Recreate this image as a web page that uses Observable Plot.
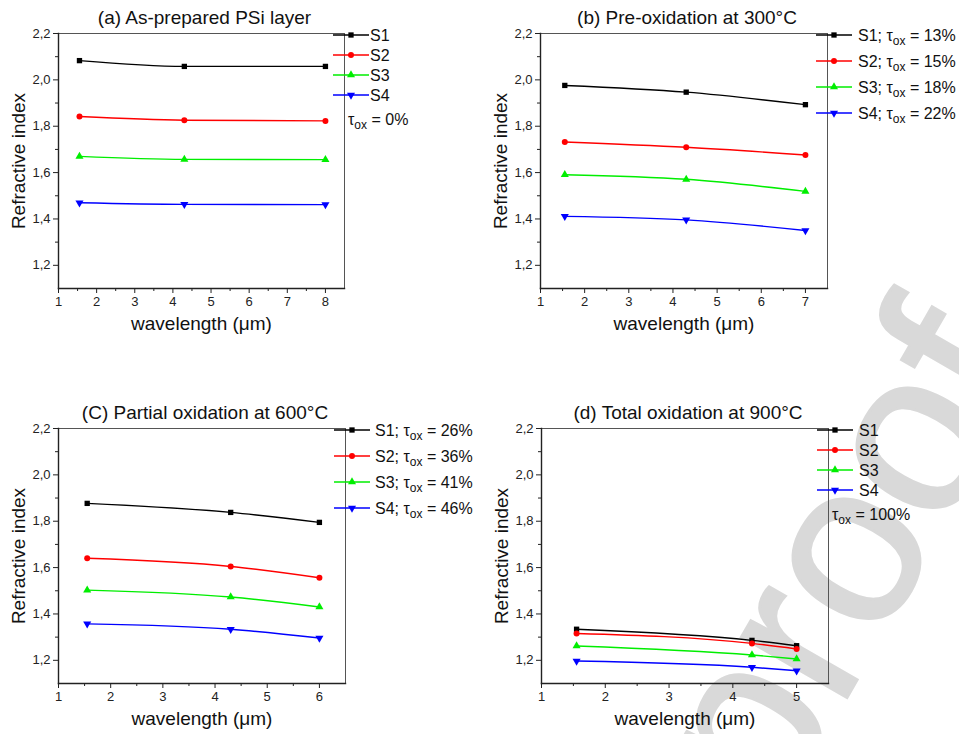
<!DOCTYPE html>
<html><head><meta charset="utf-8">
<script src="https://cdn.jsdelivr.net/npm/d3@7"></script>
<script src="https://cdn.jsdelivr.net/npm/@observablehq/plot@0.6"></script>
<style>
body{margin:0;background:#fff;font-family:"Liberation Sans",Arial,sans-serif;}
#wrap{position:relative;width:959px;height:734px;overflow:hidden;background:#fff;}
.panel{position:absolute;}
#wm{position:absolute;left:0;top:0;}
</style></head><body><div id="wrap"></div>
<script>
// ---- data ----
const seriesNames = ["S1", "S2", "S3", "S4"];
const seriesColors = ["#000000", "#ff0000", "#00ee00", "#0000ff"];

const titleA = "(a) As-prepared PSi layer";
const wavelengthA = [1.55, 4.3, 8];
const nA_S1 = [2.083, 2.058, 2.058];
const nA_S2 = [1.842, 1.826, 1.823];
const nA_S3 = [1.670, 1.657, 1.656];
const nA_S4 = [1.470, 1.463, 1.462];
const tauA = null;
const noteA = "0%";

const titleB = "(b) Pre-oxidation at 300°C";
const wavelengthB = [1.55, 4.3, 7];
const nB_S1 = [1.976, 1.947, 1.893];
const nB_S2 = [1.732, 1.709, 1.676];
const nB_S3 = [1.591, 1.571, 1.519];
const nB_S4 = [1.411, 1.396, 1.350];
const tauB = ["13%", "15%", "18%", "22%"];

const titleC = "(C) Partial oxidation at 600°C";
const wavelengthC = [1.55, 4.3, 6];
const nC_S1 = [1.877, 1.838, 1.795];
const nC_S2 = [1.640, 1.605, 1.556];
const nC_S3 = [1.503, 1.473, 1.430];
const nC_S4 = [1.357, 1.334, 1.296];
const tauC = ["26%", "36%", "41%", "46%"];

const titleD = "(d) Total oxidation at 900°C";
const wavelengthD = [1.55, 4.3, 5];
const nD_S1 = [1.334, 1.286, 1.263];
const nD_S2 = [1.316, 1.273, 1.249];
const nD_S3 = [1.262, 1.223, 1.206];
const nD_S4 = [1.197, 1.170, 1.155];
const tauD = null;
const noteD = "100%";

const yMajorTicks = [1.2, 1.4, 1.6, 1.8, 2.0, 2.2];
const yMinorTicks = [1.3, 1.5, 1.7, 1.9, 2.1];
const xLabel = "wavelength (\u03bcm)";
const yLabel = "Refractive index";
const watermarkText = "proof";

// ---- drawing ----
const FONT = "'Liberation Sans', Arial, sans-serif";
const fmt = d => d3.format(".1f")(d).replace(".", ",");
const symbolOf = ["square", "circle", "triangle", "triangle"];
const rotateOf = [0, 0, 0, 180];

function panel(cfg) {
  const rows = [];
  cfg.values.forEach((vals, i) => vals.forEach((v, j) => rows.push({s: i, x: cfg.wl[j], y: v})));
  const xMajor = d3.range(1, cfg.xmax + 0.001, 1);
  const xMinor = d3.range(1.5, cfg.xmax + 0.001, 1);
  const marks = [
    Plot.frame({stroke: "#555", strokeWidth: 1}),
    Plot.frame({anchor: "left", stroke: "#222", strokeWidth: 1.4}),
    Plot.frame({anchor: "bottom", stroke: "#222", strokeWidth: 1.4}),
    Plot.axisY(yMajorTicks, {tickSize: 5, tickPadding: 3, tickFormat: fmt, fontSize: 13, label: null, stroke: "#222", fill: "#222"}),
    Plot.axisY(yMinorTicks, {tickSize: 3, tickFormat: () => "", label: null, stroke: "#222"}),
    Plot.axisX(xMajor, {tickSize: 5, tickPadding: 3, tickFormat: d3.format("d"), fontSize: 13, label: null, stroke: "#222", fill: "#222"}),
    Plot.axisX(xMinor, {tickSize: 3, tickFormat: () => "", label: null, stroke: "#222"}),
    Plot.text([cfg.title], {text: d => d, frameAnchor: "top", dy: -16, dx: 3, fontSize: 19, fill: "#111", lineAnchor: "middle", textAnchor: "middle"}),
    Plot.text([xLabel], {text: d => d, frameAnchor: "bottom", dy: 35, fontSize: 19, fill: "#111", lineAnchor: "middle", textAnchor: "middle"}),
    Plot.text([yLabel], {text: d => d, frameAnchor: "left", dx: -40, rotate: -90, fontSize: 19, fill: "#111", lineAnchor: "middle", textAnchor: "middle"})
  ];
  for (let i = 0; i < 4; i++) {
    const d = rows.filter(r => r.s === i);
    marks.push(Plot.line(d, {x: "x", y: "y", stroke: seriesColors[i], strokeWidth: 1.4, curve: "monotone-x"}));
    marks.push(Plot.dot(d, {x: "x", y: "y", symbol: symbolOf[i], fill: seriesColors[i], r: 3, rotate: rotateOf[i]}));
  }
  const plot = Plot.plot({
    width: cfg.width, height: cfg.height,
    marginLeft: cfg.ml, marginRight: cfg.mr, marginTop: cfg.mt, marginBottom: cfg.mb,
    style: {fontFamily: FONT, background: "transparent", overflow: "visible"},
    x: {domain: [1, cfg.xmax + 0.5], axis: null},
    y: {domain: [1.1, 2.2], axis: null},
    marks
  });
  // legend
  const svg = d3.select(plot);
  const fr = cfg.width - cfg.mr;
  const g = svg.append("g").attr("font-family", FONT).attr("font-size", 16).attr("fill", "#111").attr("text-anchor", "start");
  let lastY = 0;
  for (let i = 0; i < 4; i++) {
    const y = cfg.mt + 2 + i * cfg.gap;
    lastY = y;
    g.append("line").attr("x1", fr - 11).attr("x2", fr + 25).attr("y1", y).attr("y2", y)
      .attr("stroke", seriesColors[i]).attr("stroke-width", 1.5);
    const type = [d3.symbolSquare, d3.symbolCircle, d3.symbolTriangle, d3.symbolTriangle][i];
    g.append("path").attr("d", d3.symbol(type, 28)())
      .attr("transform", `translate(${fr + 7},${y}) rotate(${rotateOf[i]})`).attr("fill", seriesColors[i]);
    const t = g.append("text").attr("x", fr + cfg.tx).attr("y", y).attr("dy", "0.36em");
    if (cfg.tau) {
      t.append("tspan").text(seriesNames[i] + "; \u03c4");
      t.append("tspan").attr("font-size", 12).attr("dy", 4).text("ox");
      t.append("tspan").attr("dy", -4).text(" = " + cfg.tau[i]);
    } else {
      t.text(seriesNames[i]);
    }
  }
  if (cfg.note) {
    const t = g.append("text").attr("x", fr + 4).attr("y", lastY + 24).attr("dy", "0.36em");
    t.append("tspan").text("\u03c4");
    t.append("tspan").attr("font-size", 12).attr("dy", 4).text("ox");
    t.append("tspan").attr("dy", -4).text(" = " + cfg.note);
  }
  const div = document.createElement("div");
  div.className = "panel";
  div.style.left = cfg.left + "px";
  div.style.top = cfg.top + "px";
  div.appendChild(plot);
  return div;
}

const wrap = document.getElementById("wrap");

// watermark (behind the charts)
const wm = d3.select(wrap).append("svg").attr("id", "wm").attr("width", 959).attr("height", 734);
wm.append("text").attr("transform", "translate(775,822) rotate(-60)")
  .attr("font-family", FONT).attr("font-size", 230)
  .attr("fill", "#d9d9d9").attr("stroke", "#d9d9d9").attr("stroke-width", 3).text(watermarkText);

wrap.appendChild(panel({title: titleA, wl: wavelengthA, values: [nA_S1, nA_S2, nA_S3, nA_S4], xmax: 8, tau: tauA, note: noteA,
  left: 0, top: 0, width: 480, height: 340, ml: 58, mr: 136, mt: 33, mb: 52, gap: 20, tx: 26}));
wrap.appendChild(panel({title: titleB, wl: wavelengthB, values: [nB_S1, nB_S2, nB_S3, nB_S4], xmax: 7, tau: tauB,
  left: 480, top: 0, width: 479, height: 340, ml: 60, mr: 132, mt: 33, mb: 52, gap: 26, tx: 31}));
wrap.appendChild(panel({title: titleC, wl: wavelengthC, values: [nC_S1, nC_S2, nC_S3, nC_S4], xmax: 6, tau: tauC,
  left: 0, top: 395, width: 480, height: 339, ml: 58, mr: 135, mt: 33, mb: 51, gap: 26, tx: 30}));
wrap.appendChild(panel({title: titleD, wl: wavelengthD, values: [nD_S1, nD_S2, nD_S3, nD_S4], xmax: 5, tau: tauD, note: noteD,
  left: 480, top: 395, width: 479, height: 339, ml: 61, mr: 131, mt: 33, mb: 51, gap: 20, tx: 31}));
</script>
</body></html>
